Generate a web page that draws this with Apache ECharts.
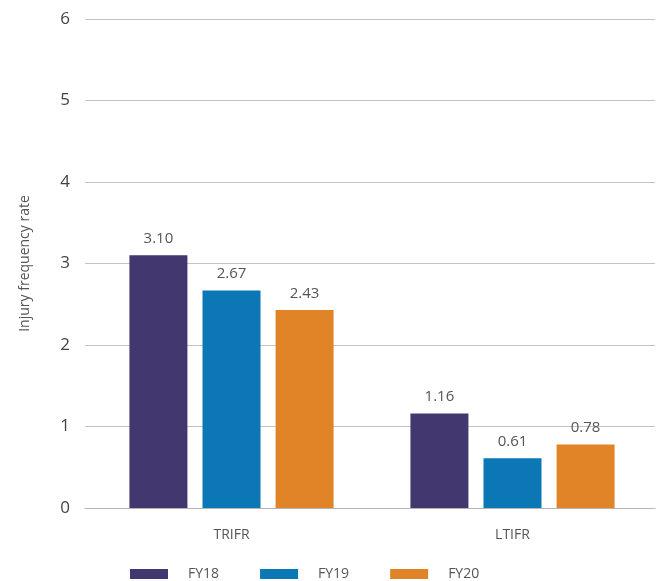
<!DOCTYPE html>
<html><head><meta charset="utf-8">
<script src="https://cdn.jsdelivr.net/npm/echarts@6/dist/echarts.min.js"></script>
<style>html,body{margin:0;padding:0;background:#fff}#c{width:657px;height:581px}</style>
</head><body><div id="c"></div>
<script>
const categories = ['TRIFR', 'LTIFR'];
const seriesNames = ['FY18', 'FY19', 'FY20'];
const fy18 = [3.10, 1.16];
const fy19 = [2.67, 0.61];
const fy20 = [2.43, 0.78];
const yTicks = [0, 1, 2, 3, 4, 5, 6];
const colors = ['#42376e', '#0b77b5', '#e08427'];
const values = [fy18, fy19, fy20];
const font = '"Open Sans", sans-serif';
const chart = echarts.init(document.getElementById('c'));
chart.setOption({
  animation: false,
  textStyle: {fontFamily: font},
  grid: [
    {left: 85, right: 2, top: 19, bottom: 73},
    {left: 91, right: 4, top: 19, bottom: 73}
  ],
  legend: {
    data: seriesNames, top: 567, left: 130, padding: 0,
    itemWidth: 38, itemHeight: 10, itemGap: 41,
    icon: 'rect',
    textStyle: {fontSize: 14, color: '#555', fontFamily: font, padding: [0, 0, 0, 15]}
  },
  xAxis: [
    {type: 'category', gridIndex: 0, data: categories,
     axisTick: {show: false}, axisLabel: {show: false},
     axisLine: {lineStyle: {color: '#b5b5b5', width: 1}}},
    {type: 'category', gridIndex: 1, data: categories,
     axisTick: {show: false}, axisLine: {show: false},
     axisLabel: {color: '#555', fontSize: 14, margin: 20, fontFamily: font}}
  ],
  yAxis: [
    {type: 'value', gridIndex: 0, min: yTicks[0], max: yTicks[yTicks.length - 1], interval: 1,
     name: 'Injury frequency rate', nameLocation: 'middle', nameGap: 53,
     nameTextStyle: {color: '#555', fontSize: 14, fontFamily: font},
     axisLabel: {color: '#444', fontSize: 17, margin: 15, fontFamily: font},
     splitLine: {lineStyle: {color: '#c4c4c4', width: 1}}},
    {type: 'value', gridIndex: 1, min: yTicks[0], max: yTicks[yTicks.length - 1], interval: 1,
     axisLabel: {show: false}, splitLine: {show: false}, axisLine: {show: false}, axisTick: {show: false}}
  ],
  series: seriesNames.map((n, i) => ({
    name: n, type: 'bar', data: values[i],
    xAxisIndex: 1, yAxisIndex: 1,
    barWidth: 58, barGap: '26%',
    itemStyle: {color: colors[i]},
    label: {show: true, position: 'top', distance: 9, color: '#555', fontSize: 15, fontFamily: font,
      formatter: p => p.value.toFixed(2)}
  }))
});
</script></body></html>
